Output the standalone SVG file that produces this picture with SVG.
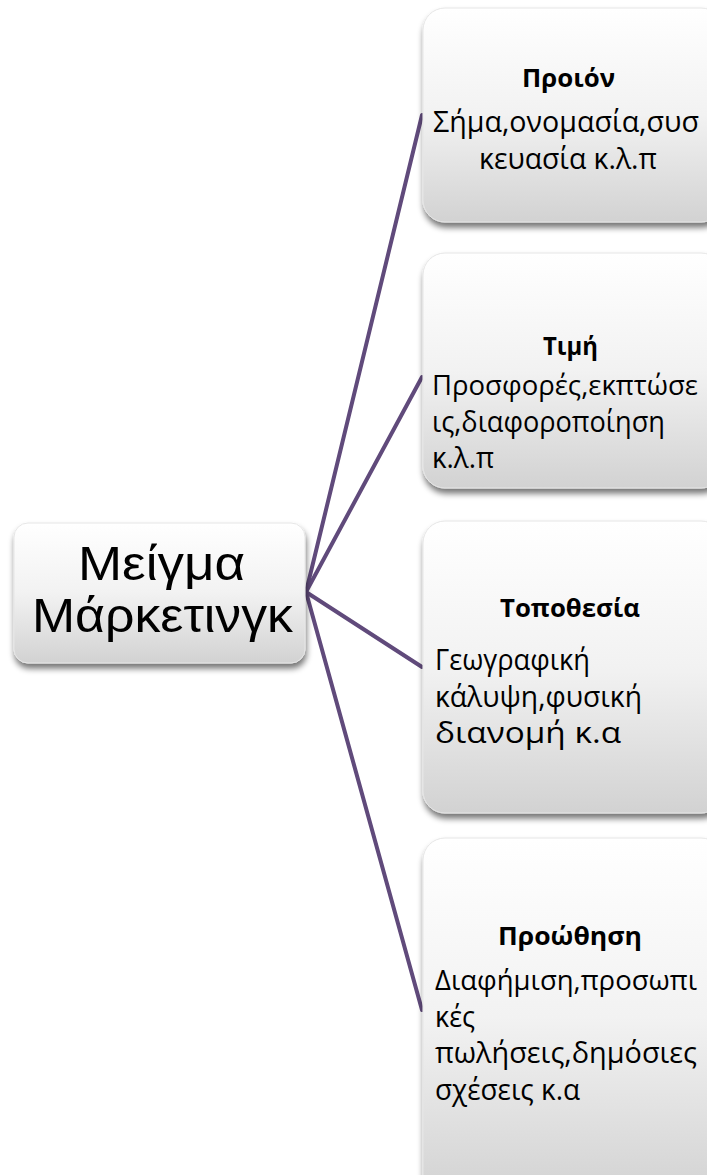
<svg xmlns="http://www.w3.org/2000/svg" width="707" height="1175" viewBox="0 0 707 1175">
<defs>
<linearGradient id="g" x1="0" y1="0" x2="0" y2="1">
<stop offset="0" stop-color="#ffffff"/>
<stop offset="0.5" stop-color="#f2f2f2"/>
<stop offset="1" stop-color="#d2d2d2"/>
</linearGradient>
<filter id="sh" x="-10%" y="-10%" width="130%" height="130%">
<feGaussianBlur in="SourceAlpha" stdDeviation="3"/>
<feOffset dx="1" dy="5" result="b"/>
<feComponentTransfer><feFuncA type="linear" slope="0.55"/></feComponentTransfer>
<feMerge><feMergeNode/><feMergeNode in="SourceGraphic"/></feMerge>
</filter>
</defs>
<style>
.box{fill:url(#g);stroke:#e6e6e6;stroke-width:1;filter:url(#sh)}
.t{font-family:"Open Sans","Noto Sans","DejaVu Sans",sans-serif;fill:#000}
.h{font-size:25px;font-weight:bold}
.b{font-size:29px}
.n{font-size:26.5px}
.c{font-family:"Liberation Sans","Open Sans",sans-serif;font-size:49px}
.ln{stroke:#604a7b;stroke-width:4;fill:none;stroke-linecap:round}
</style>
<rect width="707" height="1175" fill="#ffffff"/>
<g id="connectors">
<line class="ln" x1="306" y1="592" x2="422" y2="115"/>
<line class="ln" x1="306" y1="592" x2="422" y2="377"/>
<line class="ln" x1="306" y1="592" x2="422" y2="667"/>
<line class="ln" x1="306" y1="592" x2="422" y2="1010"/>
</g>
<g id="center">
<rect class="box" x="14" y="523" width="291" height="140" rx="14"/>
<text class="t c" x="78" y="580" textLength="167" lengthAdjust="spacingAndGlyphs">Μείγμα</text>
<text class="t c" x="32" y="632" textLength="261" lengthAdjust="spacingAndGlyphs">Μάρκετινγκ</text>
</g>
<g id="n1">
<rect class="box" x="423" y="8" width="300" height="214" rx="22"/>
<text class="t h" x="522" y="87" textLength="93" lengthAdjust="spacingAndGlyphs">Προιόν</text>
<text class="t b" x="433" y="132" textLength="266" lengthAdjust="spacingAndGlyphs">Σήμα,ονομασία,συσ</text>
<text class="t b" x="479" y="169" textLength="178" lengthAdjust="spacingAndGlyphs">κευασία κ.λ.π</text>
</g>
<g id="n2">
<rect class="box" x="423" y="253" width="300" height="235" rx="22"/>
<text class="t h" x="543" y="355" textLength="55" lengthAdjust="spacingAndGlyphs">Τιμή</text>
<text class="t n" x="432" y="395" textLength="266" lengthAdjust="spacingAndGlyphs">Προσφορές,εκπτώσε</text>
<text class="t b" x="432" y="432" textLength="233" lengthAdjust="spacingAndGlyphs">ις,διαφοροποίηση</text>
<text class="t b" x="432" y="468" textLength="62" lengthAdjust="spacingAndGlyphs">κ.λ.π</text>
</g>
<g id="n3">
<rect class="box" x="423" y="521" width="300" height="292" rx="22"/>
<text class="t h" x="500" y="617" textLength="140" lengthAdjust="spacingAndGlyphs">Τοποθεσία</text>
<text class="t b" x="435" y="670" textLength="155" lengthAdjust="spacingAndGlyphs">Γεωγραφική</text>
<text class="t b" x="435" y="707" textLength="207" lengthAdjust="spacingAndGlyphs">κάλυψη,φυσική</text>
<text class="t b" x="435" y="743" textLength="186" lengthAdjust="spacingAndGlyphs">διανομή κ.α</text>
</g>
<g id="n4">
<rect class="box" x="423" y="838" width="300" height="360" rx="22"/>
<text class="t h" x="498" y="945" textLength="144" lengthAdjust="spacingAndGlyphs">Προώθηση</text>
<text class="t n" x="435" y="990" textLength="262" lengthAdjust="spacingAndGlyphs">Διαφήμιση,προσωπι</text>
<text class="t b" x="435" y="1027" textLength="40" lengthAdjust="spacingAndGlyphs">κές</text>
<text class="t b" x="435" y="1063" textLength="262" lengthAdjust="spacingAndGlyphs">πωλήσεις,δημόσιες</text>
<text class="t b" x="435" y="1100" textLength="145" lengthAdjust="spacingAndGlyphs">σχέσεις κ.α</text>
</g>
</svg>
